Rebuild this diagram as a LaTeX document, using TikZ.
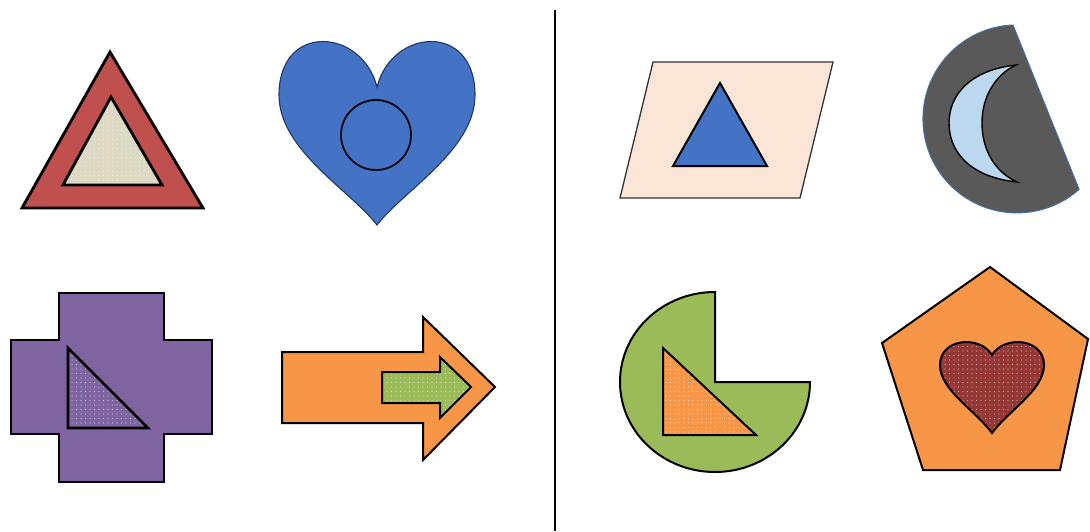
\documentclass[tikz,border=0pt]{standalone}
\usepackage{xcolor}
\definecolor{shred}{RGB}{192,80,77}
\definecolor{shbeige}{RGB}{221,217,195}
\definecolor{shblue}{RGB}{68,114,196}
\definecolor{shnavy}{RGB}{32,56,100}
\definecolor{shpeach}{RGB}{251,229,214}
\definecolor{shgrey}{RGB}{89,89,89}
\definecolor{shsteel}{RGB}{65,113,156}
\definecolor{shice}{RGB}{189,215,238}
\definecolor{shpurple}{RGB}{128,100,162}
\definecolor{shorange}{RGB}{247,150,70}
\definecolor{shgreen}{RGB}{155,187,89}
\definecolor{shmaroon}{RGB}{149,55,53}
\usepackage{tikz}
\usetikzlibrary{patterns.meta}
\tikzset{
  heavy/.style={draw=black,line width=2.8pt,line join=miter},
  medium/.style={draw=black,line width=2pt,line join=miter},
  speckled/.style={preaction={fill=#1},pattern={Dots[distance=4.5pt,radius=0.6pt]},pattern color=white!55!#1}
}

\begin{document}
\begin{tikzpicture}[x=1pt,y=-1pt]
\useasboundingbox[fill=white] (0,0) rectangle (1090,531);
% ---- DIVIDER ----
\draw[line width=1.8pt] (555,10) -- (555,531);
% ---- TRIANGLE IN TRIANGLE ----
\draw[heavy,fill=shred] (110,52) -- (203,208) -- (22,208) -- cycle;
\draw[heavy,speckled=shbeige] (111,97) -- (162,185) -- (63,185) -- cycle;
% ---- HEART WITH CIRCLE ----
\draw[shnavy,line width=1.1pt,fill=shblue] (377,87) .. controls (362,28) and (279,22) .. (279,95)
  .. controls (279,150) and (350,190) .. (377,225) .. controls (404,190) and (475,150) .. (475,95)
  .. controls (475,22) and (392,28) .. (377,87) -- cycle;
\draw[black!85!shnavy,line width=1.8pt] (376,135) circle (35);
% ---- PARALLELOGRAM ----
\draw[black!80,line width=1.3pt,fill=shpeach] (653,62) -- (833,62) -- (800,198) -- (620,198) -- cycle;
\draw[medium,fill=shblue] (720,83) -- (767,166) -- (673,166) -- cycle;
% ---- CHORD + MOON ----
\draw[shsteel,line width=1pt,fill=shgrey] (1013,25) arc[start angle=267.6,end angle=48.6,radius=94] -- cycle;
\draw[black,line width=1.4pt,fill=shice] (1016,65) .. controls (970,70) and (949,95) .. (949,123)
  .. controls (949,152) and (970,177) .. (1017,182) .. controls (995,172) and (982,150) .. (982,123)
  .. controls (982,97) and (995,75) .. (1016,65) -- cycle;
% ---- CROSS ----
\draw[heavy,fill=shpurple] (59,293) -- (164,293) -- (164,340) -- (212,340) -- (212,434) -- (164,434)
  -- (164,482) -- (59,482) -- (59,434) -- (11,434) -- (11,340) -- (59,340) -- cycle;
\draw[heavy,speckled=shpurple] (68,348) -- (148,428) -- (68,428) -- cycle;
% ---- ARROW IN ARROW ----
\draw[medium,fill=shorange] (282,352) -- (423,352) -- (423,317) -- (495,387) -- (423,460) -- (423,423)
  -- (282,423) -- cycle;
\draw[medium,speckled=shgreen] (382,372) -- (440,372) -- (440,357) -- (471,387) -- (440,418) -- (440,403)
  -- (382,403) -- cycle;
% ---- PIE ----
\draw[medium,fill=shgreen] (715,382) -- (810,382) arc[start angle=0,end angle=270,x radius=95,y radius=90] -- cycle;
\draw[medium,speckled=shorange] (663,348) -- (756,435) -- (663,435) -- cycle;
% ---- PENTAGON WITH HEART ----
\draw[medium,fill=shorange] (990,267) -- (1088,339) -- (1060,470) -- (923,470) -- (882,343) -- cycle;
\draw[medium,speckled=shmaroon] (992,355) .. controls (980,335) and (940,338) .. (940,365)
  .. controls (940,390) and (975,410) .. (992,433) .. controls (1009,410) and (1044,390) .. (1044,365)
  .. controls (1044,338) and (1004,335) .. (992,355) -- cycle;
\end{tikzpicture}
\end{document}
